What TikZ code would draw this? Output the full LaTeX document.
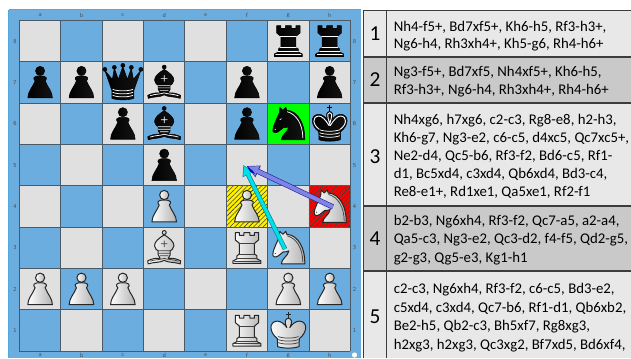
\documentclass[tikz,border=0pt]{standalone}
\usepackage{fontspec}
\usetikzlibrary{patterns.meta,arrows.meta}
\setmainfont{Carlito}
\definecolor{sqlight}{HTML}{E0E0E0}
\definecolor{sqblue}{HTML}{6CADE0}
\definecolor{rowlight}{HTML}{E8E8E8}
\definecolor{rowdark}{HTML}{C9C9C9}
\definecolor{gridc}{HTML}{4A5A66}
\definecolor{tablec}{HTML}{3C3C3C}
\definecolor{arrowv}{HTML}{7E84E6}
\definecolor{arrowvd}{HTML}{2A2A9A}
\definecolor{arrowc}{HTML}{00E0E8}
\definecolor{arrowcd}{HTML}{007F88}
\newcommand{\sqx}[1]{19.4+41.37*(#1-1)}
\newcommand{\sqy}[1]{20.3+41.37*(8-#1)}
\tikzset{
  x=0.75pt,y=-0.75pt,
  coordlab/.style={inner sep=0pt,font=\sffamily\fontsize{4.6}{5}\selectfont,text=black!70},
  moves/.style={inner sep=0pt,anchor=base west,font=\fontsize{11.1}{12}\selectfont,text=black},
  rownum/.style={inner sep=0pt,font=\fontsize{16}{17}\selectfont,text=black},
  rowline/.style={draw=tablec,line width=0.9pt},
  hatch/.style={pattern={Lines[angle=45,distance=2.5pt,line width=0.45pt]},pattern color=black!75},
  wp/.style={pbody/.style={draw=black!85,line width=0.75pt,line join=round,left color=white,middle color=white,right color=black!30},
             pdet/.style={draw=black!75,line width=0.55pt,line cap=round}},
  bp/.style={pbody/.style={draw=black,line width=0.4pt,line join=round,left color=black,right color=black!92},
             pdet/.style={draw=white,line width=0.55pt,line cap=round}},
  pawnp/.pic={
    \path[pbody] (0,-11.5) circle (4.6);
    \path[pbody] (-12.3,15.5) .. controls (-12.3,9) and (-7.5,5) .. (-5,-1.5) .. controls (-7.5,-4) and (-7,-6.5) .. (0,-6.5) .. controls (7,-6.5) and (7.5,-4) .. (5,-1.5) .. controls (7.5,5) and (12.3,9) .. (12.3,15.5) -- cycle;
  },
  rookp/.pic={
    \path[pbody] (-11.7,-15.3) -- (-7.5,-15.3) -- (-7.5,-12.5) -- (-3,-12.5) -- (-3,-15.3) -- (3,-15.3) -- (3,-12.5) -- (7.5,-12.5) -- (7.5,-15.3) -- (11.7,-15.3) -- (11.7,-8) -- (7.5,-4.5) -- (7.5,6) -- (10,8) -- (10,11) -- (14,13) -- (14,15.5) -- (-14,15.5) -- (-14,13) -- (-10,11) -- (-10,8) -- (-7.5,6) -- (-7.5,-4.5) -- (-11.7,-8) -- cycle;
    \draw[pdet] (-8,-4.5) -- (8,-4.5) (-8,6.5) -- (8,6.5) (-10,10.5) -- (10,10.5) (-12.5,13.2) -- (12.5,13.2);
  },
  knightp/.pic={
    \path[pbody] (16.5,16) -- (-7,16) .. controls (-7,11) and (0,8) .. (0.5,3) .. controls (-1,4) and (-3,4) .. (-5,4) -- (-10,8) .. controls (-13,10) and (-16,9) .. (-15.5,6) .. controls (-15,1) and (-11,-6) .. (-9,-11) -- (-8.5,-16.5) -- (-5.5,-13.5) -- (-2.5,-16.5) -- (-1.5,-13.5) .. controls (10,-13) and (17,1) .. (16.5,16) -- cycle;
    \draw[pdet] (-1,-12) .. controls (8,-9.5) and (14.3,0) .. (14.5,14);
    \draw[pdet] (-8.5,-4) -- (-7,-5) (-13.5,6) -- (-12.8,5.5);
  },
  bishopp/.pic={
    \path[pbody] (0,-15.3) circle (2);
    \path[pbody] (0,-13) .. controls (-5,-10) and (-10,-6) .. (-9.7,-2) .. controls (-9.5,1) and (-7,2.5) .. (-6,3) -- (-6,7) .. controls (-5.5,9) .. (-4,10.5) .. controls (-8,10) and (-13,11) .. (-16.5,13) -- (-16,16) .. controls (-10,14) and (-4,15) .. (0,12.5) .. controls (4,15) and (10,14) .. (16,16) -- (16.5,13) .. controls (13,11) and (8,10) .. (4,10.5) .. controls (5.5,9) .. (6,7) -- (6,3) .. controls (7,2.5) and (9.5,1) .. (9.7,-2) .. controls (10,-6) and (5,-10) .. (0,-13) -- cycle;
    \draw[pdet] (-3,-4) -- (3,-4) (0,-7) -- (0,-1) (-6,3) -- (6,3) (-6,5.5) -- (6,5.5) (-4,8) -- (4,8) (-14,13.3) .. controls (-9,11.5) and (-4,12) .. (0,10.5) .. controls (4,12) and (9,11.5) .. (14,13.3);
  },
  queenp/.pic={
    \path[pbody] (-18,-13) circle (2) (18,-13) circle (2) (-8.5,-15) circle (2) (8.5,-15) circle (2) (0,-17) circle (2);
    \path[pbody] (-11,16) -- (-11,8) -- (-18,-12) -- (-10.5,-3) -- (-8.5,-14) -- (-4.5,-3) -- (0,-16) -- (4.5,-3) -- (8.5,-14) -- (10.5,-3) -- (18,-12) -- (11,8) -- (11,16) .. controls (5,18) and (-5,18) .. (-11,16) -- cycle;
    \draw[pdet] (-10,7) .. controls (-5,9) and (5,9) .. (10,7) (-10,10) .. controls (-5,12) and (5,12) .. (10,10) (-10,13) .. controls (-5,15) and (5,15) .. (10,13);
  },
  kingp/.pic={
    \draw[pbody,line width=0.8pt] (0,-12) -- (0,-18.5) (-2.2,-16.3) -- (2.2,-16.3);
    \path[pbody] (-10.7,16) -- (-11,8) .. controls (-19,2) and (-20,-9) .. (-11,-9.5) .. controls (-7,-9.5) and (-3.5,-6) .. (-1.5,-3) .. controls (-2.5,-6) and (-4,-8) .. (-3,-10) .. controls (-2,-13) and (2,-13) .. (3,-10) .. controls (4,-8) and (2.5,-6) .. (1.5,-3) .. controls (3.5,-6) and (7,-9.5) .. (11,-9.5) .. controls (20,-9) and (19,2) .. (11,8) -- (10.7,16) .. controls (5,18) and (-5,18) .. (-10.7,16) -- cycle;
    \draw[pdet] (-10,6) .. controls (-5,8) and (5,8) .. (10,6) (-10,9) .. controls (-5,11) and (5,11) .. (10,9) (-10,12) .. controls (-5,14) and (5,14) .. (10,12);
  },
  bkingx/.pic={
    \draw[draw=white,line width=0.7pt] (-0.5,2) .. controls (-4,-4) and (-8,-8) .. (-11,-7.7) .. controls (-18,-7) and (-17,1) .. (-10.5,5.5) (0.5,2) .. controls (4,-4) and (8,-8) .. (11,-7.7) .. controls (18,-7) and (17,1) .. (10.5,5.5) (-2,-9.5) .. controls (-1.5,-11.5) and (1.5,-11.5) .. (2,-9.5) .. controls (2.5,-7) and (1,-4) .. (0,0) .. controls (-1,-4) and (-2.5,-7) .. (-2,-9.5);
  },
}
\begin{document}
\begin{tikzpicture}
\useasboundingbox (0,0) rectangle (631,358);
\begin{scope}
\clip (0,0) rectangle (631,358);
% board frame
\fill[sqblue] (8.5,9.5) rectangle (360.5,358);
\draw[color=cyan!40!sqblue,line width=0.9pt] (8.5,9.8) -- (360.5,9.8);
\draw[color=cyan!40!sqblue,line width=0.6pt] (8.7,9.5) -- (8.7,358);
% squares
\foreach \f in {1,...,8}\foreach \r in {1,...,8}{
  \pgfmathtruncatemacro{\parity}{mod(\f+\r,2)}
  \ifnum\parity=1 \def\sqc{sqlight}\else\def\sqc{sqblue}\fi
  \fill[\sqc] ({\sqx{\f}},{\sqy{\r}}) rectangle ++(41.37,41.37);
}
% highlighted squares
\fill[green] ({\sqx{7}},{\sqy{6}}) rectangle ++(41.37,41.37);
\fill[yellow] ({\sqx{6}},{\sqy{4}}) rectangle ++(41.37,41.37);
\fill[red] ({\sqx{8}},{\sqy{4}}) rectangle ++(41.37,41.37);
\fill[hatch] ({\sqx{6}},{\sqy{4}}) rectangle ++(41.37,41.37);
\fill[hatch] ({\sqx{8}},{\sqy{4}}) rectangle ++(41.37,41.37);
% grid
\foreach \i in {0,...,8}{
  \draw[gridc,line width=0.65pt] ({19.4+41.37*\i},20.3) -- ({19.4+41.37*\i},351.3);
  \draw[gridc,line width=0.65pt] (19.4,{20.3+41.37*\i}) -- (350.4,{20.3+41.37*\i});
}
% labels
\foreach \f/\l in {1/a,2/b,3/c,4/d,5/e,6/f,7/g,8/h}{
  \node[coordlab] (top\l) at ({\sqx{\f}+20.7},15.5) {\l};
  \node[coordlab] (bot\l) at ({\sqx{\f}+20.7},355.5) {\l};
}
\foreach \r in {1,...,8}{
  \node[coordlab] (left\r) at (15,{\sqy{\r}+20.7}) {\r};
  \node[coordlab] (right\r) at (354.5,{\sqy{\r}+20.7}) {\r};
}
% black pieces
\foreach \f/\r/\g/\n in {7/8/rookp/rg8,8/8/rookp/rh8,1/7/pawnp/pa7,2/7/pawnp/pb7,3/7/queenp/qc7,4/7/bishopp/bd7,6/7/pawnp/pf7,8/7/pawnp/ph7,3/6/pawnp/pc6,4/6/bishopp/bd6,6/6/pawnp/pf6,7/6/knightp/ng6,8/6/kingp/kh6,8/6/bkingx/kh6x,4/5/pawnp/pd5}{
  \pic[bp] (\n) at ({\sqx{\f}+20.7},{\sqy{\r}+20.7}) {\g};
}
% white pieces
\foreach \f/\r/\g/\n in {4/4/pawnp/pd4,6/4/pawnp/pf4,8/4/knightp/nh4,4/3/bishopp/bd3,6/3/rookp/rf3,7/3/knightp/ng3,1/2/pawnp/pa2,2/2/pawnp/pb2,3/2/pawnp/pc2,7/2/pawnp/pg2,8/2/pawnp/ph2,6/1/rookp/rf1,7/1/kingp/kg1}{
  \pic[wp] (\n) at ({\sqx{\f}+20.7},{\sqy{\r}+20.7}) {\g};
}
% arrows
\coordinate (vs) at (333,207);
\coordinate (vt) at (246.7,166);
\coordinate (cs) at (285,249);
\coordinate (ct) at (243.3,165);
\draw[arrowvd,line width=4pt,-{Triangle[length=9.5pt,width=9pt]}] (vs) -- (vt);
\draw[arrowv,line width=3pt,shorten >=0.8pt,-{Triangle[length=8pt,width=7.6pt]}] (vs) -- (vt);
\draw[arrowcd,line width=3.4pt,-{Triangle[length=8pt,width=8.5pt]}] (cs) -- (ct);
\draw[arrowc,line width=2.5pt,shorten >=0.8pt,-{Triangle[length=6.8pt,width=7.2pt]}] (cs) -- (ct);
\fill[blue!75!black] (247,166.3) -- (253,171) -- (255,174) -- (250,171.5) -- cycle;
% circle corner
\fill[white] (354.5,355) circle (2.6);
% table
\fill[white] (360.5,0) rectangle (363.3,358);
\fill[rowlight] (363.3,10) rectangle (631,57);
\fill[rowdark]  (363.3,57) rectangle (631,103);
\fill[rowlight] (363.3,103) rectangle (631,206);
\fill[rowdark]  (363.3,206) rectangle (631,271);
\fill[rowlight] (363.3,271) rectangle (631,358);
\draw[rowline] (363.3,10.3) -- (631,10.3);
\draw[rowline] (363.3,57) -- (631,57);
\draw[rowline] (363.3,103) -- (631,103);
\draw[rowline] (363.3,206) -- (631,206);
\draw[rowline] (363.3,271) -- (631,271);
\draw[rowline] (363.6,10) -- (363.6,358);
\draw[rowline] (386.7,10) -- (386.7,358);
\node[rownum] (n1) at (375,34) {1};
\node[rownum] (n2) at (375,80) {2};
\node[rownum] (n3) at (375,157) {3};
\node[rownum] (n4) at (375,239) {4};
\node[rownum] (n5) at (375,317) {5};
\foreach \y/\t/\n in {
31/{Nh4-f5+, Bd7xf5+, Kh6-h5, Rf3-h3+,}/a1,
48.5/{Ng6-h4, Rh3xh4+, Kh5-g6, Rh4-h6+}/a2,
76/{Ng3-f5+, Bd7xf5, Nh4xf5+, Kh6-h5,}/b1,
94/{Rf3-h3+, Ng6-h4, Rh3xh4+, Rh4-h6+}/b2,
124/{Nh4xg6, h7xg6, c2-c3, Rg8-e8, h2-h3,}/c1,
142/{Kh6-g7, Ng3-e2, c6-c5, d4xc5, Qc7xc5+,}/c2,
160/{Ne2-d4, Qc5-b6, Rf3-f2, Bd6-c5, Rf1-}/c3,
178/{d1, Bc5xd4, c3xd4, Qb6xd4, Bd3-c4,}/c4,
196/{Re8-e1+, Rd1xe1, Qa5xe1, Rf2-f1}/c5,
225/{b2-b3, Ng6xh4, Rf3-f2, Qc7-a5, a2-a4,}/d1,
243.5/{Qa5-c3, Ng3-e2, Qc3-d2, f4-f5, Qd2-g5,}/d2,
262/{g2-g3, Qg5-e3, Kg1-h1}/d3,
293/{c2-c3, Ng6xh4, Rf3-f2, c6-c5, Bd3-e2,}/e1,
312/{c5xd4, c3xd4, Qc7-b6, Rf1-d1, Qb6xb2,}/e2,
330/{Be2-h5, Qb2-c3, Bh5xf7, Rg8xg3,}/e3,
349/{h2xg3, h2xg3, Qc3xg2, Bf7xd5, Bd6xf4,}/e4}{
  \node[moves] (\n) at (393.5,\y) {\t};
}
\end{scope}
\end{tikzpicture}
\end{document}
